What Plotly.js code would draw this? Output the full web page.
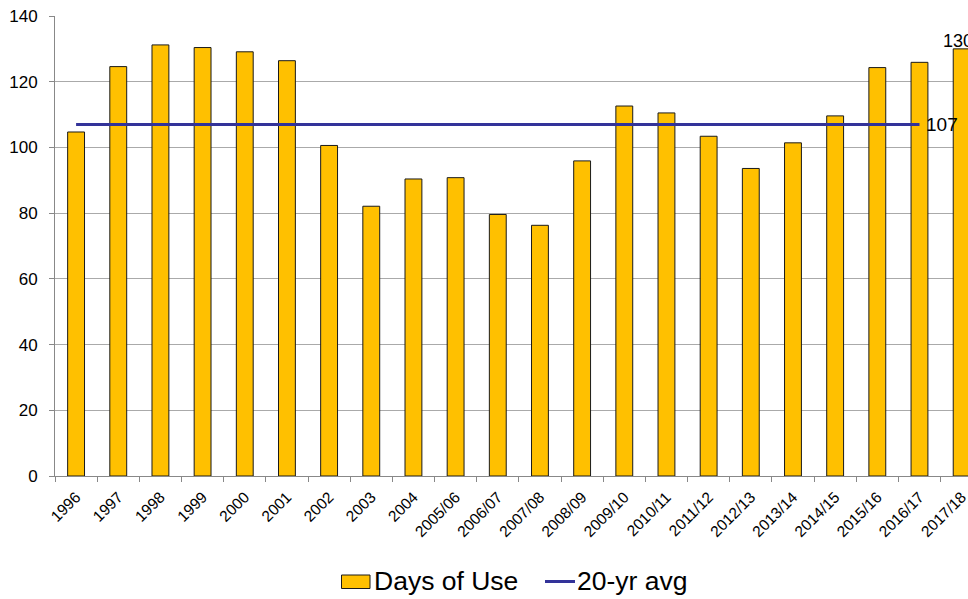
<!DOCTYPE html>
<html>
<head>
<meta charset="utf-8">
<script src="https://cdn.plot.ly/plotly-3.0.1.min.js"></script>
<style>
  html, body { margin: 0; padding: 0; background: #fff; }
  #chart { width: 968px; height: 599px; }
</style>
</head>
<body>
<div id="chart"></div>
<script>
// Seasons on the category axis
const seasons = ['1996', '1997', '1998', '1999', '2000', '2001', '2002', '2003', '2004',
  '2005/06', '2006/07', '2007/08', '2008/09', '2009/10', '2010/11', '2011/12',
  '2012/13', '2013/14', '2014/15', '2015/16', '2016/17', '2017/18'];

// Days of use per season
const daysOfUse = [104.7, 124.6, 131.2, 130.4, 129.1, 126.4, 100.6, 82.1, 90.4,
  90.8, 79.6, 76.3, 95.9, 112.6, 110.5, 103.4, 93.6, 101.4, 109.6, 124.3, 125.9, 130];

// 20-year average and the seasons it spans
const avgValue = 107;
const avgSeasons = seasons.slice(0, 21);

const font = 'Liberation Sans, Arial, sans-serif';
const barColor = '#FFC000';
const avgColor = '#333399';

const lastIdx = daysOfUse.length - 1;
const avgY = avgSeasons.map(() => avgValue);

const traces = [
  {
    type: 'bar',
    name: 'Days of Use',
    x: seasons,
    y: daysOfUse,
    marker: { color: barColor, line: { color: '#1a1a1a', width: 1 } },
    hoverinfo: 'x+y'
  },
  {
    type: 'scatter',
    mode: 'lines',
    name: '20-yr avg',
    x: avgSeasons,
    y: avgY,
    line: { color: avgColor, width: 3 },
    cliponaxis: false
  }
];

// Plot area spans x 55..968 px and y 16..476 px
const L = 55, R = 968, T = 16, B = 476;
const px = v => (v - L) / (R - L);
const py = v => (B - v) / (B - T);
const catWidth = 42.17;
const xMax = -0.5 + (R - L) / catWidth;

const layout = {
  width: 968,
  height: 599,
  margin: { l: L, r: 968 - R, t: T, b: 599 - B, pad: 0 },
  paper_bgcolor: '#fff',
  plot_bgcolor: '#fff',
  showlegend: false,
  bargap: 0.6,
  font: { family: font, color: '#000' },
  xaxis: {
    type: 'category',
    range: [-0.5, xMax],
    tickangle: -45,
    ticks: 'outside',
    tickson: 'boundaries',
    ticklen: 5,
    tickcolor: '#888',
    showline: true,
    linecolor: '#888',
    linewidth: 1,
    showgrid: false,
    ticklabelstandoff: 5,
    tickfont: { family: font, size: 15.5, color: '#000' },
    fixedrange: true
  },
  yaxis: {
    range: [0, 140],
    dtick: 20,
    ticks: 'outside',
    ticklen: 5,
    tickcolor: '#888',
    showline: true,
    linecolor: '#888',
    linewidth: 1,
    showgrid: true,
    gridcolor: '#aaaaaa',
    gridwidth: 1,
    zeroline: false,
    ticklabelstandoff: 8,
    tickfont: { family: font, size: 17, color: '#000' },
    fixedrange: true
  },
  shapes: [
    // legend swatch: bars
    {
      type: 'rect', xref: 'paper', yref: 'paper',
      x0: px(341.5), x1: px(370), y0: py(575), y1: py(588.5),
      fillcolor: barColor, line: { color: '#1a1a1a', width: 1 }
    },
    // legend swatch: average line
    {
      type: 'line', xref: 'paper', yref: 'paper',
      x0: px(545), x1: px(575), y0: py(581.5), y1: py(581.5),
      line: { color: avgColor, width: 3 }
    }
  ],
  annotations: [
    // value label above the latest season's bar
    {
      xref: 'x', yref: 'y',
      x: seasons[lastIdx], y: daysOfUse[lastIdx],
      xanchor: 'center', yanchor: 'bottom', xshift: -4, yshift: -4, showarrow: false,
      text: String(Math.round(daysOfUse[lastIdx])),
      font: { family: font, size: 18, color: '#000' }
    },
    // value label at the end of the average line
    {
      xref: 'x', yref: 'y',
      x: avgSeasons[avgSeasons.length - 1], y: avgValue,
      xanchor: 'left', yanchor: 'middle', xshift: 5, showarrow: false,
      text: String(avgValue), font: { family: font, size: 19, color: '#000' }
    },
    {
      xref: 'paper', yref: 'paper', x: px(372), y: py(581),
      xanchor: 'left', yanchor: 'middle', showarrow: false,
      text: 'Days of Use', font: { family: font, size: 26.5, color: '#000' }
    },
    {
      xref: 'paper', yref: 'paper', x: px(575), y: py(581),
      xanchor: 'left', yanchor: 'middle', showarrow: false,
      text: '20-yr avg', font: { family: font, size: 26.5, color: '#000' }
    }
  ]
};

Plotly.newPlot('chart', traces, layout, { displayModeBar: false, staticPlot: true });
</script>
</body>
</html>
